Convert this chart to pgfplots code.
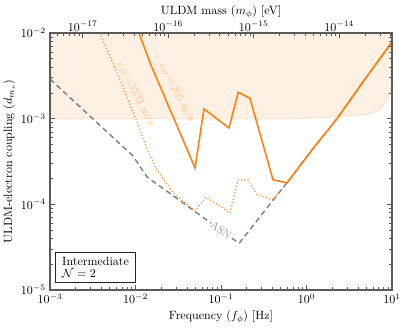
\documentclass[border=0pt]{standalone}
\usepackage{pgfplots}
\pgfplotsset{compat=1.18}
\definecolor{tabor}{HTML}{FF7F0E}
\definecolor{shade}{HTML}{FEF0E3}
\definecolor{shadeedge}{HTML}{FDDCBF}
\definecolor{axgray}{HTML}{5A5A5A}
\definecolor{lblor}{HTML}{FDBF88}
\begin{document}
\begin{tikzpicture}
\begin{axis}[
  scale only axis, width=283.9bp, height=213.3bp,
  xmode=log, ymode=log,
  xmin=1e-3, xmax=10, ymin=1e-5, ymax=1e-2,
  axis line style={axgray, line width=1.3pt},
  tick align=inside,
  xtick pos=bottom, ytick pos=both,
  tick style={axgray, line width=0.5pt},
  major tick length=4.5pt, minor tick length=2.5pt,
  xlabel={Frequency ($f_\phi$) [Hz]},
  ylabel={ULDM-electron coupling ($d_{m_e}$)},
  xlabel style={yshift=1.5pt},
  ylabel style={yshift=-2pt},
  axis on top,
]
\coordinate (bl) at (rel axis cs:0,0);
\coordinate (tr) at (rel axis cs:1,1);
% excluded region
\addplot[draw=shadeedge, fill=shade, line width=0.6pt] coordinates {
 (1e-3,1e-2) (1e-3,1e-3) (0.767,1e-3) (1.88,1.04e-3) (5.06,1.12e-3)
 (7.24,1.26e-3) (8.98,1.73e-3) (10,2.47e-3) (10,1e-2)} -- cycle;
% ASN
\addplot[gray, line width=1.2pt, dash pattern=on 4.5pt off 3pt] coordinates {
 (1e-3,2.9e-3) (9.35e-3,3.67e-4) (0.01365,2.09e-4) (0.163,3.5e-5)
 (0.406,1.12e-4) (0.591,1.78e-4) (1.19,4.47e-4) (2.275,1.0e-3)
 (4.58,2.69e-3) (10,7.85e-3)};
% c_H = 3232 m/s
\addplot[tabor, line width=1.3pt, line cap=round, dash pattern=on 0pt off 2.8pt] coordinates {
 (3.8e-3,1e-2) (6.59e-3,2.85e-3) (0.01043,9.14e-4) (0.01365,4.43e-4)
 (0.01783,2.52e-4) (0.0275,1.36e-4) (0.0497,8.38e-5) (0.0668,1.22e-4)
 (0.127,7.94e-5) (0.158,1.93e-4) (0.207,1.93e-4) (0.264,1.29e-4)
 (0.406,1.12e-4) (0.591,1.78e-4) (1.19,4.47e-4) (2.275,1.0e-3)
 (4.58,2.69e-3) (10,7.85e-3)};
% c_H = 205 m/s
\addplot[tabor, line width=1.3pt] coordinates {
 (0.011,1e-2) (0.0148,4.47e-3) (0.0497,2.66e-4) (0.0632,1.30e-3)
 (0.124,7.78e-4) (0.159,2.03e-3) (0.218,1.73e-3) (0.406,1.93e-4)
 (0.591,1.78e-4) (1.19,4.47e-4) (2.275,1.0e-3) (4.58,2.69e-3) (10,7.85e-3)};
\node[rotate=-62, text=lblor, font=\small, inner sep=0pt] at (axis cs:0.0305,2.0e-3) {$c_H\!=\!205$ m/s};
\node[rotate=-63, text=lblor, font=\small, inner sep=0pt] at (axis cs:0.01014,1.94e-3) {$c_H\!=\!3232$ m/s};
\node[rotate=-36, text=gray!80, font=\small, fill=white, inner sep=0.5pt] at (axis cs:0.1,5.03e-5) {ASN};
\node[draw=black!85, line width=0.8pt, fill=white, align=left, anchor=south west,
      inner xsep=5.5pt, inner ysep=4pt, font=\normalsize] at (rel axis cs:0.015,0.027)
      {Intermediate\\[-2pt]$\mathcal{N}=2$};
\end{axis}
\begin{axis}[
  scale only axis, width=283.9bp, height=213.3bp,
  xmode=log, xmin=4.1357e-18, xmax=4.1357e-14,
  ymin=0, ymax=1,
  axis x line*=top, hide y axis,
  axis line style={axgray, line width=1.3pt},
  tick align=inside,
  tick style={axgray, line width=0.5pt},
  major tick length=4.5pt, minor tick length=2.5pt,
  xticklabel style={yshift=-2pt},
  xlabel={ULDM mass ($m_\phi$) [eV]},
  xlabel style={yshift=-4pt},
]
\addplot[draw=none] coordinates {(1e-16,0.5)};
\end{axis}
\pgfresetboundingbox
\path ([shift={(-41.5bp,-31.5bp)}]bl) rectangle ([shift={(12.45bp,27.4bp)}]tr);
\end{tikzpicture}
\end{document}
